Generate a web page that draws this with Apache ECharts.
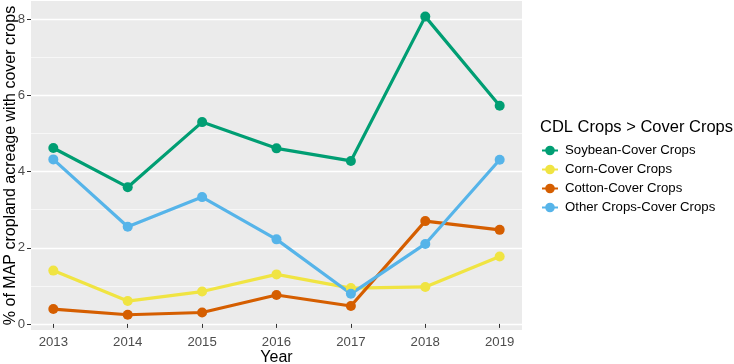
<!DOCTYPE html>
<html lang="en">
<head>
    <meta charset="UTF-8">
    <title>Cover crops</title>
    <script src="https://cdn.jsdelivr.net/npm/echarts@6/dist/echarts.min.js"></script>
    <style>
        html, body { margin: 0; padding: 0; background: #fff; }
    </style>
</head>
<body>

<div id="main" style="width: 734px;height:364px;"></div>

<script type="text/javascript">
    // data
    var years = [2013, 2014, 2015, 2016, 2017, 2018, 2019];
    var soybean = [4.62, 3.59, 5.30, 4.61, 4.28, 8.07, 5.73];
    var corn = [1.40, 0.60, 0.85, 1.30, 0.94, 0.97, 1.77];
    var cotton = [0.39, 0.24, 0.30, 0.76, 0.47, 2.70, 2.47];
    var other = [4.32, 2.55, 3.33, 2.22, 0.79, 2.10, 4.31];
    var yMajor = [0, 2, 4, 6, 8];
    var yMinor = [1, 3, 5, 7];

    var FONT = "'Liberation Sans', Arial, sans-serif";

    function pairs(vals) {
        return years.map(function (y, i) { return [y, vals[i]]; });
    }

    function mkSeries(name, vals, color) {
        return {
            name: name,
            type: 'line',
            data: pairs(vals),
            symbol: 'circle',
            symbolSize: 10,
            showSymbol: true,
            lineStyle: { width: 3.2, color: color },
            itemStyle: { color: color },
            emphasis: { disabled: true },
            z: 3
        };
    }

    var myChart = echarts.init(document.getElementById('main'));

    var yBase = {
        type: 'value',
        min: -0.16,
        max: 8.48,
        axisLine: { show: false },
        splitArea: { show: false }
    };

    myChart.setOption({
        animation: false,
        textStyle: { fontFamily: FONT },
        title: {
            text: 'CDL Crops > Cover Crops',
            left: 540,
            top: 119,
            padding: 0,
            textStyle: { fontSize: 16.5, fontWeight: 'normal', color: '#000', fontFamily: FONT }
        },
        legend: {
            orient: 'vertical',
            left: 541,
            top: 144,
            padding: 0,
            itemWidth: 16,
            itemHeight: 12,
            itemGap: 6,
            textStyle: { fontSize: 13.2, color: '#000', fontFamily: FONT, padding: [0, 0, 0, 2] },
            data: ['Soybean-Cover Crops', 'Corn-Cover Crops', 'Cotton-Cover Crops', 'Other Crops-Cover Crops']
        },
        grid: {
            left: 31,
            right: 212,
            top: 1,
            bottom: 34,
            show: true,
            backgroundColor: '#EBEBEB',
            borderWidth: 0,
            outerBoundsMode: 'none'
        },
        xAxis: {
            type: 'value',
            min: 2012.7,
            max: 2019.3,
            name: 'Year',
            nameLocation: 'middle',
            nameGap: 20,
            nameMoveOverlap: false,
            nameTextStyle: { fontSize: 16, color: '#000', fontFamily: FONT },
            axisLine: { show: false },
            axisTick: { show: true, length: 4, customValues: years, lineStyle: { color: '#333333', width: 1 } },
            axisLabel: {
                customValues: years,
                margin: 6,
                fontSize: 13.2,
                color: '#4D4D4D',
                formatter: function (v) { return String(v); }
            },
            splitLine: { show: false }
        },
        yAxis: [
            Object.assign({}, yBase, {
                name: '% of MAP cropland acreage with cover crops',
                nameLocation: 'middle',
                nameGap: 12,
                nameMoveOverlap: false,
                nameTextStyle: { fontSize: 16, color: '#000', fontFamily: FONT },
                axisTick: { show: true, length: 4, customValues: yMajor, lineStyle: { color: '#333333', width: 1 } },
                axisLabel: {
                    customValues: yMajor,
                    margin: 6,
                    fontSize: 13.2,
                    color: '#4D4D4D'
                },
                splitLine: { show: true, lineStyle: { color: '#FFFFFF', width: 1.3 } }
            }),
            Object.assign({}, yBase, {
                position: 'left',
                axisTick: { show: false, customValues: yMinor },
                axisLabel: { show: false, customValues: yMinor },
                splitLine: { show: true, lineStyle: { color: '#FFFFFF', width: 0.6 } }
            })
        ],
        series: [
            mkSeries('Soybean-Cover Crops', soybean, '#009E73'),
            mkSeries('Corn-Cover Crops', corn, '#F0E442'),
            mkSeries('Cotton-Cover Crops', cotton, '#D55E00'),
            mkSeries('Other Crops-Cover Crops', other, '#56B4E9')
        ]
    });
</script>

</body>
</html>
